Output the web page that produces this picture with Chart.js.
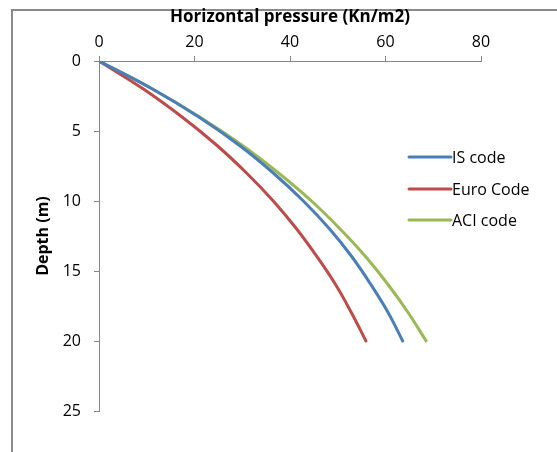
<!DOCTYPE html>
<html>
<head>
<meta charset="utf-8">
<script src="https://cdn.jsdelivr.net/npm/chart.js@4/dist/chart.umd.min.js"></script>
<style>
  html, body { margin: 0; padding: 0; background: #fff; overflow: hidden; }
  #wrap { position: relative; width: 557px; height: 452px; }
  #frame { position: absolute; left: 11px; top: 9px; width: 600px; height: 500px; border: 2px solid #8a8a8a; }
  #box { position: absolute; left: 0; top: 0; width: 557px; height: 452px; }
</style>
</head>
<body>
<div id="wrap">
  <div id="frame"></div>
  <div id="box"><canvas id="chart"></canvas></div>
</div>
<script>
// Depth (m) and horizontal pressure (kN/m2)
const depths = [0, 2, 4, 6, 8, 10, 12, 14, 16, 18, 20];
const isCode = [0, 11.2, 20.9, 29.3, 36.5, 42.8, 48.3, 53.0, 57.0, 60.6, 63.6];
const euroCode = [0, 9.3, 17.4, 24.6, 30.9, 36.5, 41.4, 45.7, 49.6, 52.9, 55.9];
const aciCode = [0, 11.2, 21.1, 29.9, 37.6, 44.5, 50.5, 55.9, 60.6, 64.8, 68.5];

const seriesNames = ['IS code', 'Euro Code', 'ACI code'];
const seriesColors = ['#4a7ebb', '#be4b48', '#98b954'];

const xTicks = [0, 20, 40, 60, 80];
const yTicks = [0, 5, 10, 15, 20, 25];

const axisGray = '#868686';
const fontFamily = '"Open Sans", Lato, sans-serif';

const toPoints = (vals) => vals.map((v, i) => ({ x: v, y: depths[i] }));

// Legend drawn inside the plot, to the right of the curves
const insideLegend = {
    id: 'insideLegend',
    afterDraw(chart) {
        const ctx = chart.ctx;
        const x0 = 409, x1 = 451;
        const rows = [157, 189, 220];
        ctx.save();
        ctx.font = '16px ' + fontFamily;
        ctx.textBaseline = 'middle';
        chart.data.datasets.forEach((ds, i) => {
            ctx.strokeStyle = ds.borderColor;
            ctx.lineWidth = 3;
            ctx.lineCap = 'round';
            ctx.beginPath();
            ctx.moveTo(x0, rows[i]);
            ctx.lineTo(x1, rows[i]);
            ctx.stroke();
            ctx.fillStyle = '#000';
            ctx.fillText(ds.label, x1 + 1, rows[i] + 1);
        });
        ctx.restore();
    }
};

const ctx = document.getElementById('chart').getContext('2d');
new Chart(ctx, {
    type: 'scatter',
    data: {
        datasets: [isCode, euroCode, aciCode].map((vals, i) => ({
            label: seriesNames[i],
            data: toPoints(vals),
            showLine: true,
            borderColor: seriesColors[i],
            backgroundColor: seriesColors[i],
            borderWidth: 3,
            pointRadius: 0,
            tension: 0.4,
            borderCapStyle: 'round'
        }))
    },
    options: {
        responsive: true,
        maintainAspectRatio: false,
        animation: false,
        layout: { padding: { left: 0, top: 0, right: 76, bottom: 41 } },
        plugins: {
            legend: { display: false },
            tooltip: { enabled: false }
        },
        scales: {
            x: {
                type: 'linear',
                position: 'top',
                min: 0,
                max: 80,
                afterBuildTicks: (s) => { s.ticks = xTicks.map(v => ({ value: v })); },
                afterFit: (s) => { s.height = 61; },
                grid: { drawOnChartArea: false, drawTicks: true, tickLength: 5, color: axisGray },
                border: { color: axisGray, width: 1 },
                ticks: { color: '#000', padding: 4, font: { family: fontFamily, size: 16 } },
                title: {
                    display: true,
                    text: 'Horizontal pressure (Kn/m2)',
                    color: '#000',
                    padding: { top: 7, bottom: 0 },
                    font: { family: fontFamily, size: 17, weight: 'bold' }
                }
            },
            y: {
                type: 'linear',
                reverse: true,
                min: 0,
                max: 25,
                afterBuildTicks: (s) => { s.ticks = yTicks.map(v => ({ value: v })); },
                afterFit: (s) => { s.width = 99; },
                grid: { drawOnChartArea: false, drawTicks: true, tickLength: 5, color: axisGray },
                border: { color: axisGray, width: 1 },
                ticks: { color: '#000', padding: 13, font: { family: fontFamily, size: 16 } },
                title: {
                    display: true,
                    text: 'Depth (m)',
                    color: '#000',
                    padding: { top: 34, bottom: 0 },
                    font: { family: fontFamily, size: 16, weight: 'bold' }
                }
            }
        }
    },
    plugins: [insideLegend]
});
</script>
</body>
</html>
